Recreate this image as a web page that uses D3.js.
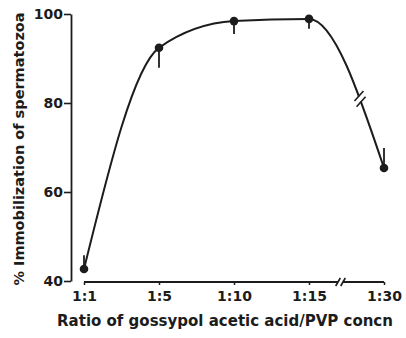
<!DOCTYPE html>
<html>
<head>
<meta charset="utf-8">
<script src="https://cdn.jsdelivr.net/npm/d3@7"></script>
<style>
  html, body { margin: 0; padding: 0; background: #fff; }
  svg { display: block; }
  text { font-family: "DejaVu Sans", sans-serif; font-weight: bold; fill: #1c1c1c; }
</style>
</head>
<body>
<svg id="chart" width="406" height="338"></svg>
<script>
// data
const ratios = ["1:1", "1:5", "1:10", "1:15", "1:30"];
const immobilization = [42.7, 92.4, 98.4, 98.9, 65.4];
const errorBar = [3.1, -4.5, -2.9, -2.2, 4.5]; // one-sided bars (sign = direction)
const yTicks = [40, 60, 80, 100];

const ink = "#1c1c1c";
const svg = d3.select("#chart");

const x = d3.scaleLinear().domain([0, ratios.length - 1]).range([84, 384]);
const y = d3.scaleLinear().domain([40, 100]).range([281, 14]);

// Y axis
const yAxis = svg.append("g")
  .attr("transform", "translate(71,0)")
  .call(d3.axisLeft(y).tickValues(yTicks).tickSize(7).tickSizeOuter(0).tickPadding(1));
yAxis.select(".domain").attr("stroke", ink).attr("stroke-width", 1.8);
yAxis.selectAll(".tick line").attr("stroke", ink).attr("stroke-width", 1.6);
yAxis.selectAll(".tick text").attr("font-size", 14).attr("fill", ink)
  .style("font-family", "DejaVu Sans").style("font-weight", "bold");

// X axis (ticks from the axis, line drawn in two parts for the break)
const axisY = 282;
const xAxis = svg.append("g")
  .attr("transform", `translate(0,${axisY})`)
  .call(d3.axisBottom(x).tickValues(d3.range(ratios.length))
    .tickFormat(i => ratios[i]).tickSize(3).tickSizeOuter(0).tickPadding(6));
xAxis.select(".domain").remove();
xAxis.selectAll(".tick line").attr("stroke", ink).attr("stroke-width", 1.5);
xAxis.selectAll(".tick text").attr("font-size", 14).attr("fill", ink)
  .style("font-family", "DejaVu Sans").style("font-weight", "bold");

const xBreak = x(3.42);
svg.append("line").attr("x1", x(0)).attr("x2", xBreak - 2.5)
  .attr("y1", axisY).attr("y2", axisY).attr("stroke", ink).attr("stroke-width", 1.8);
svg.append("line").attr("x1", xBreak + 2.5).attr("x2", x(4))
  .attr("y1", axisY).attr("y2", axisY).attr("stroke", ink).attr("stroke-width", 1.8);
[-2.5, 2.5].forEach(dx => {
  svg.append("line")
    .attr("x1", xBreak + dx - 2.3).attr("y1", axisY + 4)
    .attr("x2", xBreak + dx + 2.3).attr("y2", axisY - 4)
    .attr("stroke", ink).attr("stroke-width", 1.6);
});

// curve
const line = d3.line()
  .x((d, i) => x(i))
  .y(d => y(d))
  .curve(d3.curveMonotoneX);

const curve = svg.append("path")
  .datum(immobilization)
  .attr("d", line)
  .attr("fill", "none")
  .attr("stroke", ink)
  .attr("stroke-width", 2);

// break marks on the curve, between 1:15 and 1:30
const node = curve.node();
const total = node.getTotalLength();
const bx = x(3.68);
let lo = 0, hi = total;
for (let k = 0; k < 40; k++) {
  const mid = (lo + hi) / 2;
  if (node.getPointAtLength(mid).x < bx) lo = mid; else hi = mid;
}
const p0 = node.getPointAtLength(lo - 1), p1 = node.getPointAtLength(lo + 1);
const pc = node.getPointAtLength(lo);
const len = Math.hypot(p1.x - p0.x, p1.y - p0.y);
const tx = (p1.x - p0.x) / len, ty = (p1.y - p0.y) / len;
svg.append("line")
  .attr("x1", pc.x - tx * 2.5).attr("y1", pc.y - ty * 2.5)
  .attr("x2", pc.x + tx * 2.5).attr("y2", pc.y + ty * 2.5)
  .attr("stroke", "#fff").attr("stroke-width", 4);
[-3, 3].forEach(s => {
  const cx = pc.x + tx * s, cy = pc.y + ty * s;
  svg.append("line")
    .attr("x1", cx - 4.5).attr("y1", cy + 5)
    .attr("x2", cx + 4.5).attr("y2", cy - 5)
    .attr("stroke", ink).attr("stroke-width", 1.6);
});

// error bars
svg.append("g").selectAll("line")
  .data(immobilization)
  .join("line")
  .attr("x1", (d, i) => x(i)).attr("x2", (d, i) => x(i))
  .attr("y1", d => y(d))
  .attr("y2", (d, i) => y(d + errorBar[i]))
  .attr("stroke", ink).attr("stroke-width", 1.8);

// points
svg.append("g").selectAll("circle")
  .data(immobilization)
  .join("circle")
  .attr("cx", (d, i) => x(i))
  .attr("cy", d => y(d))
  .attr("r", 4.3)
  .attr("fill", ink);

// axis titles
svg.append("text")
  .attr("x", 225).attr("y", 326)
  .attr("text-anchor", "middle")
  .attr("font-size", 15)
  .text("Ratio of gossypol acetic acid/PVP concn");

svg.append("text")
  .attr("transform", "translate(24,149) rotate(-90)")
  .attr("text-anchor", "middle")
  .attr("font-size", 14.5)
  .text("% Immobilization of spermatozoa");
</script>
</body>
</html>
